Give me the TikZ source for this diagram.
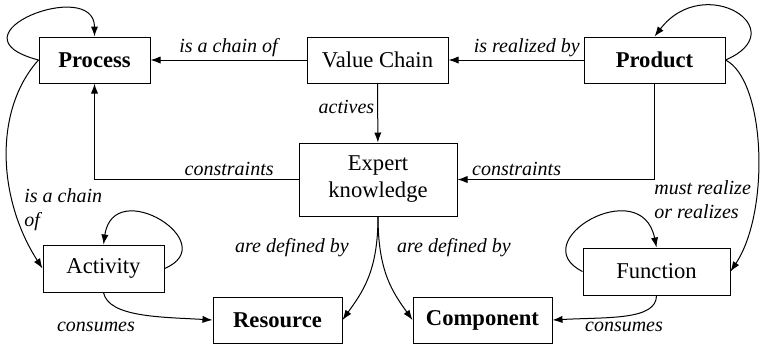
\documentclass[tikz,border=0pt]{standalone}
\usepackage{fontspec}
\setmainfont{Liberation Serif}
\newfontfamily\diagfont{Liberation Serif}
\usetikzlibrary{arrows.meta}

\tikzset{
  box/.style={draw, line width=0.5pt, inner sep=0pt, align=center, font=\diagfont\fontsize{11.3}{13.5}\selectfont},
  lbl/.style={font=\diagfont\fontsize{10}{12}\selectfont\itshape, inner sep=1.5pt},
  link/.style={line width=0.5pt, -{Latex[length=5pt,width=3.6pt]}}
}

\begin{document}
\begin{tikzpicture}[x=0.5pt, y=-0.5pt]
      \useasboundingbox (0,0) rectangle (760,345);
      % boxes
      \node[box, minimum width=55.5pt, minimum height=23pt] (process) at (94.5,60) {\textbf{Process}};
      \node[box, minimum width=70.5pt, minimum height=23pt] (chain) at (377.5,60) {Value Chain};
      \node[box, minimum width=70.5pt, minimum height=23pt] (product) at (654.5,60) {\textbf{Product}};
      \node[box, minimum width=79pt, minimum height=36.5pt] (expert) at (378,179.5) {Expert\\knowledge};
      \node[box, minimum width=60.5pt, minimum height=23.5pt] (activity) at (103.5,268.5) {Activity};
      \node[box, minimum width=64.5pt, minimum height=23pt] (resource) at (277.5,320) {\textbf{Resource}};
      \node[box, minimum width=69.5pt, minimum height=23pt] (component) at (482.5,320) {\textbf{Component}};
      \node[box, minimum width=73.5pt, minimum height=23.5pt] (function) at (656.5,271.5) {Function};
      % straight links
      \draw[link] (chain) -- node[lbl, above] {is a chain of} (process);
      \draw[link] (product) -- node[lbl, above, pos=0.42] {is realized by} (chain);
      \draw[link] (chain) -- node[lbl, left, pos=0.4] {actives} (expert);
      \draw[link] (expert.west) -| node[lbl, above, pos=0.17] {constraints} (process.south);
      \draw[link] (product.south) |- node[lbl, above, pos=0.85] {constraints} (expert.east);
      % loops
      \draw[link] (process.west) .. controls +(-95,-25) and +(0,-60) .. (process.north);
      \draw[link] (activity.east) .. controls +(60,-25) and +(10,-70) .. (activity.north);
      \draw[link] (product.east) .. controls +(70,-30) and +(50,-65) .. (product.north);
      \draw[link] (function.west) .. controls +(-60,-30) and +(-15,-75) .. (function.north);
      % curved links
      \draw[link] (process.west) .. controls +(-45,50) and +(-45,-70) .. (activity.west);
      \node[lbl, align=left, anchor=west] (chainof) at (21,210) {is a chain\\of};
      \draw[link] (product.east) .. controls +(40,20) and +(40,-60) .. (function.east);
      \node[lbl, align=left, anchor=west] (realize) at (651,200) {must realize\\or realizes};
      \draw[link] (activity.south) .. controls +(5,25) and +(-50,-3) .. (resource.west);
      \node[lbl] (consumesA) at (96,327) {consumes};
      \draw[link] (function.south) .. controls +(0,25) and +(55,-3) .. (component.east);
      \node[lbl] (consumesB) at (624,327) {consumes};
      \draw[link] (expert.south) .. controls +(0,55) and +(20,-28) .. (resource.east);
      \draw[link] (expert.south) .. controls +(0,55) and +(-20,-28) .. (component.west);
      \node[lbl] (definedA) at (292,248) {are defined by};
      \node[lbl] (definedB) at (454,248) {are defined by};
\end{tikzpicture}
\end{document}
